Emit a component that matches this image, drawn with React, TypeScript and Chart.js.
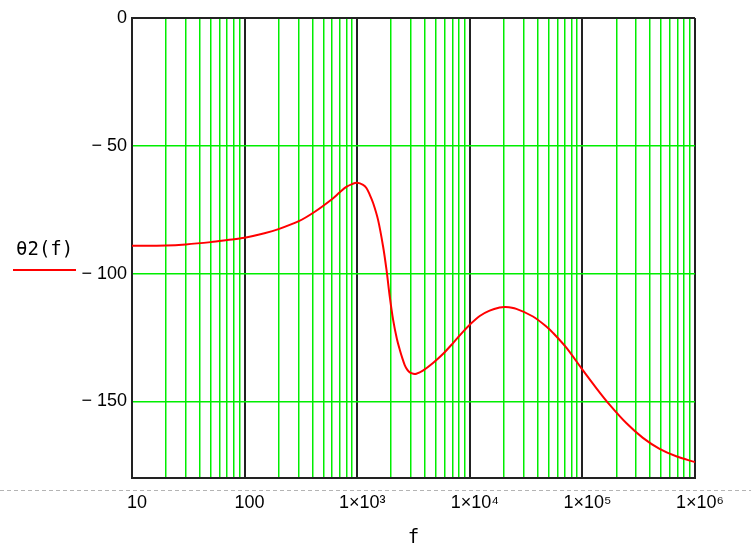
import React, { useEffect, useRef } from 'react';
import { Chart, registerables } from 'chart.js';
Chart.register(...registerables);

// Frequency (Hz) and phase θ2(f) (degrees)
const freqs = [10, 20, 30, 50, 70, 100, 150, 200, 300, 420, 600, 700, 800, 900, 1000, 1128, 1211, 1294, 1385, 1532, 1698, 1820, 1946, 2083, 2250, 2388, 2520, 2643, 2780, 2929, 3150, 3350, 3830, 4712, 5770, 7100, 8730, 10000, 12250, 15000, 18400, 20800, 25900, 36400, 47800, 54800, 72000, 97800, 132800, 174200, 245200, 344600, 484500, 681000, 1000000];
const theta2 = [-89.1, -89.0, -88.6, -87.7, -86.9, -86.0, -84.2, -82.6, -79.6, -75.8, -70.8, -68.2, -66.1, -65.0, -64.5, -65.3, -66.6, -69.2, -72.4, -79, -89.4, -98.5, -109, -118, -125.5, -129.8, -133.2, -135.8, -137.6, -138.7, -139.2, -139.2, -138, -135, -131.5, -127.2, -122.7, -120.0, -116.6, -114.5, -113.3, -113.1, -113.8, -116.8, -120.7, -123.2, -129.0, -137, -144.8, -151.3, -158.5, -164.3, -168.6, -171.5, -173.8];

const xDecades = [10, 100, 1000, 10000, 100000, 1000000];
const xTickLabels = ['10', '100', '1×10³', '1×10⁴', '1×10⁵', '1×10⁶'];
const xMultipliers = [1, 2, 3, 4, 5, 6, 7, 8, 9];
const yTickValues = [-150, -100, -50, 0];
const yTickLabels = ['− 150', '− 100', '− 50', '0'];

const tickFont = { family: "'Liberation Sans', 'Arimo', sans-serif", size: 18 };

const extras = {
  id: 'extras',
  beforeDraw(chart: any) {
    const ctx = chart.ctx;
    ctx.save();
    ctx.fillStyle = '#fff';
    ctx.fillRect(0, 0, chart.width, chart.height);
    ctx.strokeStyle = '#b4b4b4';
    ctx.lineWidth = 1;
    ctx.setLineDash([4, 3]);
    ctx.beginPath();
    ctx.moveTo(0, 490.5);
    ctx.lineTo(chart.width, 490.5);
    ctx.stroke();
    ctx.restore();
  },
  afterDraw(chart: any) {
    const ctx = chart.ctx;
    ctx.save();
    ctx.fillStyle = '#000';
    ctx.font = "19px 'DejaVu Sans Mono', monospace";
    ctx.textAlign = 'left';
    ctx.textBaseline = 'middle';
    ctx.fillText('θ2(f)', 16, 250);
    ctx.strokeStyle = '#ff0000';
    ctx.lineWidth = 2;
    ctx.beginPath();
    ctx.moveTo(13, 270);
    ctx.lineTo(76, 270);
    ctx.stroke();
    ctx.fillStyle = '#000';
    ctx.textAlign = 'center';
    ctx.textBaseline = 'alphabetic';
    ctx.fillText('f', (chart.chartArea.left + chart.chartArea.right) / 2, 543);
    ctx.restore();
  },
};

export default function App() {
  const ref = useRef<HTMLCanvasElement>(null);
  useEffect(() => {
    if (!ref.current) return;
    const isDecade = (v: number) => Math.abs(Math.log10(v) - Math.round(Math.log10(v))) < 1e-9;
    const chart = new Chart(ref.current, {
      type: 'line',
      data: {
        datasets: [
          {
            data: freqs.map((f, i) => ({ x: f, y: theta2[i] })),
            borderColor: '#ff0000',
            borderWidth: 2,
            pointRadius: 0,
            fill: false,
            tension: 0.3,
          },
        ],
      },
      options: {
        animation: false,
        responsive: false,
        maintainAspectRatio: false,
        layout: { padding: { top: 18, right: 56, left: 0, bottom: 0 } },
        plugins: { legend: { display: false }, tooltip: { enabled: false } },
        scales: {
          x: {
            type: 'logarithmic',
            min: 10,
            max: 1000000,
            afterBuildTicks: (scale: any) => {
              const t: any[] = [];
              xDecades.forEach((d, i) => {
                if (i === xDecades.length - 1) {
                  t.push({ value: d });
                } else {
                  xMultipliers.forEach((m) => t.push({ value: d * m }));
                }
              });
              scale.ticks = t;
            },
            afterFit: (scale: any) => {
              scale.height = 67;
              scale.paddingLeft = 0;
              scale.paddingRight = 0;
            },
            ticks: {
              autoSkip: false,
              maxRotation: 0,
              minRotation: 0,
              labelOffset: 5,
              padding: 14,
              color: '#000',
              font: tickFont,
              callback: (v: any) => {
                const idx = xDecades.findIndex((d) => Math.abs(d - Number(v)) < 1e-6 * d);
                return idx >= 0 ? xTickLabels[idx] : '';
              },
            },
            grid: {
              drawTicks: false,
              color: (c: any) => (c.tick && isDecade(c.tick.value) ? '#222' : '#00ee00'),
              lineWidth: (c: any) => (c.tick && isDecade(c.tick.value) ? 2 : 1.5),
            },
            border: { color: '#222', width: 2 },
          },
          y: {
            type: 'linear',
            min: -180,
            max: 0,
            afterBuildTicks: (scale: any) => {
              scale.ticks = yTickValues.map((v) => ({ value: v }));
            },
            afterFit: (scale: any) => {
              scale.width = 132;
              scale.paddingTop = 0;
              scale.paddingBottom = 0;
            },
            ticks: {
              padding: 5,
              color: '#000',
              font: tickFont,
              callback: (v: any) => {
                const idx = yTickValues.indexOf(Number(v));
                return idx >= 0 ? yTickLabels[idx] : '';
              },
            },
            grid: {
              drawTicks: false,
              color: (c: any) => (c.tick && c.tick.value === 0 ? '#222' : '#00ee00'),
              lineWidth: (c: any) => (c.tick && c.tick.value === 0 ? 2 : 1.5),
            },
            border: { color: '#222', width: 2 },
          },
        },
      },
      plugins: [extras],
    } as any);
    return () => chart.destroy();
  }, []);
  return (
    <div style={{ position: 'fixed', left: 0, top: 0, width: 751, height: 545 }}>
      <canvas ref={ref} width={751} height={545} style={{ width: 751, height: 545 }} />
    </div>
  );
}
